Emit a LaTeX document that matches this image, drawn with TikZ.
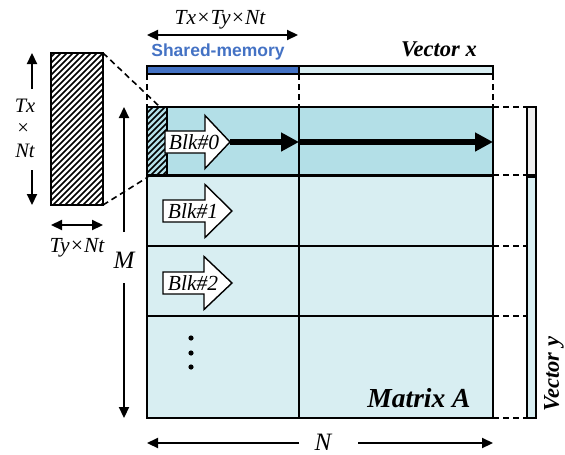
\documentclass[tikz,border=0pt]{standalone}
\usepackage{fontspec}
\setmainfont{Liberation Serif}
\newfontfamily\gothic{Liberation Sans}
\usetikzlibrary{arrows.meta}
\definecolor{rowdark}{HTML}{B3DFE7}
\definecolor{rowlight}{HTML}{D8EEF2}
\definecolor{shmblue}{HTML}{4472C4}
\definecolor{vgray}{HTML}{EEEEEE}
\tikzset{
  lbl/.style={font=\fontsize{21.5}{23}\selectfont\itshape, inner sep=0pt},
  stk/.style={font=\fontsize{20.5}{22}\selectfont\itshape, inner sep=0pt},
  bigl/.style={font=\fontsize{25}{27}\selectfont\itshape, inner sep=0pt},
  boldl/.style={font=\fontsize{22.5}{24}\selectfont\bfseries\itshape, inner sep=0pt},
  dimtip/.style={line width=2.2pt, -{Triangle[length=11pt,width=10pt]}},
  dimboth/.style={line width=2.2pt, {Triangle[length=11pt,width=10pt]}-{Triangle[length=11pt,width=10pt]}},
  thickarr/.style={line width=6.5pt, -{Triangle[length=18pt,width=18pt]}},
  dsh/.style={line width=1.6pt, dash pattern=on 6pt off 4pt},
  outl/.style={line width=2.6pt},
  blkshape/.style={draw=black, fill=white, line width=1.4pt, line join=miter},
  hatchline/.style={line width=1.5pt},
}
\newcommand{\blkarrow}[4]{% left, headbase, tip, center y
  \path[blkshape] (#1,#4-11) -- (#2,#4-11) -- (#2,#4-26.5) -- (#3,#4) -- (#2,#4+26.5) -- (#2,#4+11) -- (#1,#4+11) -- cycle;}
\begin{document}
\begin{tikzpicture}[x=1pt,y=-1pt]
\useasboundingbox (0,0) rectangle (565,455);

% ---------- Matrix A fills ----------
\fill[rowdark] (147,107) rectangle (493,175);
\fill[rowlight] (147,175) rectangle (493,418);
% small hatched block
\begin{scope}
  \clip (147,107) rectangle (167,175);
  \foreach \i in {-80,-74,...,30} \draw[hatchline] (147+\i,175) -- ++(90,-90);
\end{scope}
\draw[line width=1.8pt] (167,107) -- (167,175);
% grid lines
\draw[line width=2pt] (299,107) -- (299,418);
\draw[line width=1.8pt] (147,246) -- (493,246);
\draw[line width=1.8pt] (147,316) -- (493,316);
\draw[line width=3pt] (147,175) -- (493,175);
\draw[outl] (147,107) rectangle (493,418);

% ---------- Vector x ----------
\fill[rowlight] (147,66) rectangle (493,74);
\fill[shmblue] (147,66) rectangle (299,74);
\draw[line width=2.2pt] (147,66) rectangle (493,74);
\draw[line width=2pt] (299,66) -- (299,74);
\draw[dsh] (147,74) -- (147,107);
\draw[dsh] (299,74) -- (299,107);
\draw[dsh] (493,74) -- (493,107);

% ---------- Vector y ----------
\draw[line width=2pt, fill=vgray] (527,107) rectangle (536,175);
\draw[line width=2pt, fill=rowlight] (527,177) rectangle (536,418);
\foreach \yy in {107,175,246,316,418} \draw[dsh] (493,\yy) -- (527,\yy);

% ---------- big hatched block ----------
\begin{scope}
  \clip (51,53) rectangle (103,205);
  \foreach \i in {-160,-154,...,60} \draw[hatchline] (51+\i,205) -- ++(170,-170);
\end{scope}
\draw[outl] (51,53) rectangle (103,205);
\coordinate (bhTR) at (103,53);
\coordinate (bhBR) at (103,205);
\coordinate (shTR) at (160,107);
\coordinate (shBL) at (148,177);
\draw[dsh] (bhTR) -- (shTR);
\draw[dsh] (bhBR) -- (shBL);

% ---------- Blk arrows ----------
\blkarrow{165}{205}{230}{142}
\node[lbl] (blk0) at (194,142) {Blk\#0};
\blkarrow{163}{205}{232}{211}
\node[lbl] (blk1) at (193,211) {Blk\#1};
\blkarrow{163}{204}{232}{283}
\node[lbl] (blk2) at (193,283) {Blk\#2};

\coordinate (tip0) at (230,142);
\coordinate (mid0) at (299,142);
\coordinate (end0) at (493,142);
\draw[thickarr] (tip0) -- (mid0);
\draw[thickarr] ([xshift=1pt]mid0) -- (end0);

% dots
\foreach \yy in {338,353,367} \fill (191,\yy) circle (2.6);

% ---------- labels ----------
\node[lbl] (txtytn) at (220,20) {Tx×Ty×Nt};
\coordinate (ttl) at (147,35);
\coordinate (ttr) at (298,35);
\draw[dimboth] (ttl) -- (ttr);
\node[font=\gothic\fontsize{17.5}{19}\selectfont\bfseries, text=shmblue, inner sep=0pt] (shm) at (218,52) {Shared-memory};
\node[boldl] (vx) at (439,49) {Vector x};
\node[font=\fontsize{27.5}{29}\selectfont\bfseries\itshape, inner sep=0pt] (ma) at (419,398) {Matrix A};
\node[boldl, rotate=90] (vy) at (554,374) {Vector y};

% M arrow
\node[bigl] (M) at (124,260) {M};
\coordinate (mtop) at (124,107);
\coordinate (mbot) at (124,418);
\draw[dimtip] (124,232) -- (mtop);
\draw[dimtip] (124,283) -- (mbot);

% N arrow
\node[bigl] (N) at (323,442) {N};
\coordinate (nl) at (147,443);
\coordinate (nr) at (493,443);
\draw[dimtip] (299,443) -- (nl);
\draw[dimtip] (358,443) -- (nr);

% Tx x Nt
\node[stk] (tx) at (25,106) {Tx};
\node[stk] (tim) at (23,129) {×};
\node[stk] (nt) at (25,151) {Nt};
\draw[dimtip] (32,89) -- (32,53);
\draw[dimtip] (32,170) -- (32,205);

% Ty x Nt
\draw[dimboth] (51,225) -- (103,225);
\node[lbl] (tynt) at (77,248) {Ty×Nt};
\end{tikzpicture}
\end{document}
